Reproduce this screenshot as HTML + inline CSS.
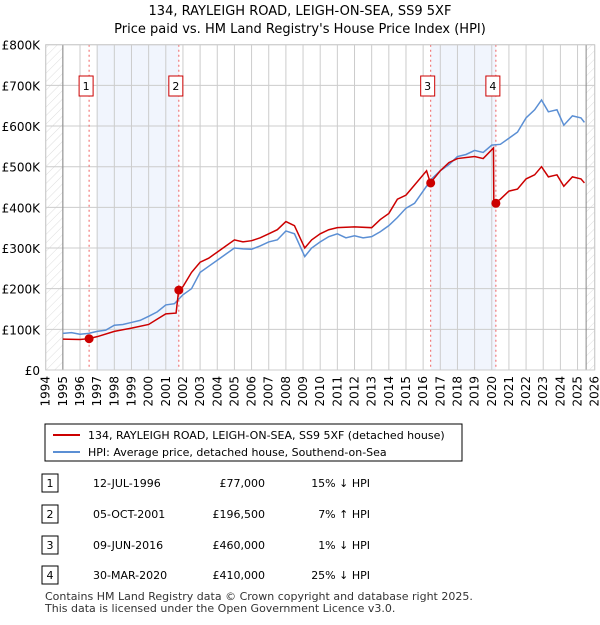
<!DOCTYPE html>
<html><head><meta charset="utf-8"><style>
body{margin:0;background:#fff;font-family:"Liberation Sans","DejaVu Sans",sans-serif;}
svg text{font-family:"DejaVu Sans","Liberation Sans",sans-serif;}
</style></head><body>
<svg id="c" width="600" height="620" xmlns="http://www.w3.org/2000/svg">
<defs><pattern id="hatch" width="6" height="6" patternUnits="userSpaceOnUse" patternTransform="rotate(45)"><line x1="0" y1="0" x2="0" y2="6" stroke="#ddd" stroke-width="1"/></pattern></defs>
<text x="300" y="15" text-anchor="middle" font-size="13" fill="#000">134, RAYLEIGH ROAD, LEIGH-ON-SEA, SS9 5XF</text>
<text x="300" y="33" text-anchor="middle" font-size="13" fill="#000">Price paid vs. HM Land Registry's House Price Index (HPI)</text>
<g id="plot"></g>
<rect x="45" y="424" width="417" height="37" fill="#fff" stroke="#000" stroke-width="1"/>
<line x1="53" y1="435" x2="80" y2="435" stroke="#cc0000" stroke-width="2"/>
<text x="88" y="439" font-size="11">134, RAYLEIGH ROAD, LEIGH-ON-SEA, SS9 5XF (detached house)</text>
<line x1="53" y1="452" x2="80" y2="452" stroke="#5b8fd4" stroke-width="2"/>
<text x="88" y="456" font-size="11">HPI: Average price, detached house, Southend-on-Sea</text>
<g id="table"></g>
<text x="45" y="600" font-size="11" fill="#333">Contains HM Land Registry data © Crown copyright and database right 2025.</text>
<text x="45" y="612" font-size="11" fill="#333">This data is licensed under the Open Government Licence v3.0.</text>
</svg>
<script>
const hpiYears=[1995,1995.5,1996,1996.5,1997,1997.5,1998,1998.5,1999,1999.5,2000,2000.5,2001,2001.5,2002,2002.5,2003,2003.5,2004,2004.5,2005,2005.5,2006,2006.5,2007,2007.5,2008,2008.5,2009.1,2009.5,2010,2010.5,2011,2011.5,2012,2012.5,2013,2013.5,2014,2014.5,2015,2015.5,2016,2016.5,2017,2017.5,2018,2018.5,2019,2019.5,2020,2020.5,2021,2021.5,2022,2022.5,2022.9,2023.3,2023.8,2024.2,2024.7,2025.2,2025.4];
const hpiValues=[90,92,88,90,95,98,110,112,117,122,132,143,160,163,185,200,240,255,270,285,300,298,297,305,315,320,342,335,279,300,315,328,335,325,330,325,328,340,355,375,398,410,440,470,490,505,525,530,540,535,553,555,570,585,620,640,664,635,640,602,625,620,609];
const priceYears=[1995,1996,1996.5,1997,1998,1999,2000,2000.5,2001,2001.6,2001.75,2002,2002.5,2003,2003.5,2004,2004.5,2005,2005.5,2006,2006.5,2007,2007.5,2008,2008.5,2009.1,2009.5,2010,2010.5,2011,2012,2013,2013.5,2014,2014.5,2015,2015.5,2016.2,2016.42,2017,2017.5,2018,2019,2019.5,2020.1,2020.12,2020.5,2021,2021.5,2022,2022.5,2022.9,2023.3,2023.8,2024.2,2024.7,2025.2,2025.4];
const priceValues=[76,75,77,82,95,103,112,125,138,140,196.5,205,240,265,275,290,305,320,315,318,325,335,345,365,355,300,320,335,345,350,352,350,370,385,420,430,455,490,460,490,510,520,525,520,546,410,420,440,445,470,480,500,475,480,452,475,470,460];
const saleLabels=["1","2","3","4"];
const saleYears=[1996.53,2001.76,2016.44,2020.24];
const salePrices=[77,196.5,460,410];
const saleDates=["12-JUL-1996","05-OCT-2001","09-JUN-2016","30-MAR-2020"];
const salePriceText=["£77,000","£196,500","£460,000","£410,000"];
const saleHpiText=["15% ↓ HPI","7% ↑ HPI","1% ↓ HPI","25% ↓ HPI"];
const yTicks=[0,100,200,300,400,500,600,700,800];
const yTickLabels=["£0","£100K","£200K","£300K","£400K","£500K","£600K","£700K","£800K"];
const bands=[[1996.97,2001.76],[2016.44,2020.24]];
const NS="http://www.w3.org/2000/svg";
const X0=45.7,X1=594.7,Y0=370,Y1=44.7,YR0=1994,YR1=2026;
const xs=y=>X0+(y-YR0)/(YR1-YR0)*(X1-X0);
const ys=v=>Y0-v/800*(Y0-Y1);
const plot=document.getElementById('plot');
function mk(t,a,p){const e=document.createElementNS(NS,t);for(const k in a)e.setAttribute(k,a[k]);(p||plot).appendChild(e);return e;}
let e;
e=mk('rect',{x:X0,y:Y1,width:X1-X0,height:Y0-Y1,fill:'#fff'});


bands.forEach(b=>{e=mk('rect',{x:xs(b[0]),y:Y1,width:xs(b[1])-xs(b[0]),height:Y0-Y1,fill:'#eef3fc',opacity:0.8});

});
e=mk('rect',{x:X0,y:Y1,width:xs(1995)-X0,height:Y0-Y1,fill:'url(#hatch)'});


e=mk('rect',{x:xs(2025.5),y:Y1,width:X1-xs(2025.5),height:Y0-Y1,fill:'url(#hatch)'});


for(let y=YR0;y<=YR1;y++){e=mk('line',{x1:xs(y),x2:xs(y),y1:Y1,y2:Y0,stroke:'#ccc','stroke-width':1});


e=mk('text',{x:0,y:0,'font-size':12,'text-anchor':'end',transform:`translate(${xs(y)+4},${Y0+6}) rotate(-90)`});e.textContent=y;

}
yTicks.forEach((v,i)=>{e=mk('line',{x1:X0,x2:X1,y1:ys(v),y2:ys(v),stroke:'#ccc','stroke-width':1});


e=mk('text',{x:40,y:ys(v)+5,'font-size':12,'text-anchor':'end'});e.textContent=yTickLabels[i];

});
[1995,2025.5].forEach(y=>{e=mk('line',{x1:xs(y),x2:xs(y),y1:Y1,y2:Y0,stroke:'#888','stroke-width':1});

});
saleYears.forEach((y,i)=>{e=mk('line',{x1:xs(y),x2:xs(y),y1:Y1,y2:Y0,stroke:'#f06060','stroke-width':1,'stroke-dasharray':'2,3'});

});
e=mk('polyline',{points:hpiYears.map((y,i)=>xs(y)+','+ys(hpiValues[i])).join(' '),fill:'none',stroke:'#5b8fd4','stroke-width':1.5});


e=mk('polyline',{points:priceYears.map((y,i)=>xs(y)+','+ys(priceValues[i])).join(' '),fill:'none',stroke:'#cc0000','stroke-width':1.5});


saleYears.forEach((y,i)=>{e=mk('circle',{cx:xs(y),cy:ys(salePrices[i]),r:4.5,fill:'#cc0000'});


const bx=xs(y);
e=mk('rect',{x:bx-10,y:76,width:14,height:20,fill:'#fff',stroke:'#cc0000','stroke-width':1});


e=mk('text',{x:bx-3,y:90,'font-size':11,'text-anchor':'middle'});e.textContent=saleLabels[i];

});
e=mk('rect',{x:X0,y:Y1,width:X1-X0,height:Y0-Y1,fill:'none',stroke:'#ccc'});
const tbl=document.getElementById('table');
const rowY=[483,514,545,575];
saleLabels.forEach((l,i)=>{const ry=rowY[i];
e=mk('rect',{x:42,y:ry-9,width:16,height:18,fill:'#fff',stroke:'#000'},tbl);


e=mk('text',{x:50,y:ry+4,'font-size':11,'text-anchor':'middle'},tbl);e.textContent=l;


e=mk('text',{x:93,y:ry+4,'font-size':11},tbl);e.textContent=saleDates[i];


e=mk('text',{x:265,y:ry+4,'font-size':11,'text-anchor':'end'},tbl);e.textContent=salePriceText[i];


e=mk('text',{x:370,y:ry+4,'font-size':11,'text-anchor':'end'},tbl);e.textContent=saleHpiText[i];

});
</script>
</body></html>
